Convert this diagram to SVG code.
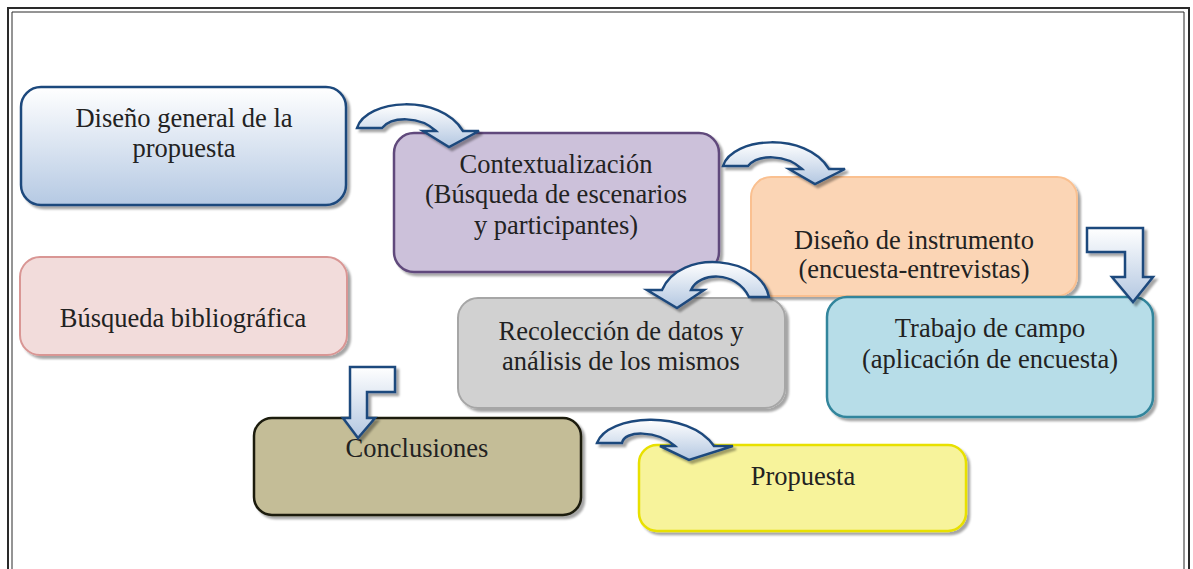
<svg xmlns="http://www.w3.org/2000/svg" width="1193" height="569" viewBox="0 0 1193 569">
<defs>
<linearGradient id="gBlue" x1="0" y1="0" x2="0" y2="1">
<stop offset="0" stop-color="#ffffff"/>
<stop offset="1" stop-color="#b5c9e3"/>
</linearGradient>
<linearGradient id="gArrow" x1="0" y1="0" x2="0" y2="1">
<stop offset="0" stop-color="#ffffff"/>
<stop offset="1" stop-color="#b3c7e1"/>
</linearGradient>
<filter id="sh" x="-10%" y="-10%" width="125%" height="130%">
<feDropShadow dx="3" dy="3" stdDeviation="1.2" flood-color="#000" flood-opacity="0.35"/>
</filter>
</defs>
<style>
.box{filter:url(#sh);}
.t{font-family:"Liberation Serif","Times New Roman",serif;font-size:26.5px;fill:#222;text-anchor:middle;}
.arr{fill:url(#gArrow);stroke:#1f497d;stroke-width:2.5;stroke-linejoin:miter;filter:url(#sh);}
.frame{fill:none;stroke:#2a2a2a;}
</style>
<rect width="1193" height="569" fill="#ffffff"/>
<g id="frame">
<path class="frame" d="M8,575 L8,8 L1189,8 L1189,575" stroke-width="2"/>
<path class="frame" d="M12,575 L12,12 L1184,12 L1184,575" stroke-width="1"/>
</g>
<g id="node-diseno-general">
<rect class="box" x="21" y="87" width="325" height="118" rx="20" fill="url(#gBlue)" stroke="#1f497d" stroke-width="2.5"/>
<text class="t" x="184" y="127">Diseño general de la</text>
<text class="t" x="184" y="157">propuesta</text>
</g>
<g id="node-contextualizacion">
<rect class="box" x="394" y="133" width="325" height="139" rx="20" fill="#ccc1da" stroke="#604a7b" stroke-width="2.5"/>
<text class="t" x="556" y="173">Contextualización</text>
<text class="t" x="556" y="203">(Búsqueda de escenarios</text>
<text class="t" x="556" y="234">y participantes)</text>
</g>
<g id="node-diseno-instrumento">
<rect class="box" x="751" y="177" width="326" height="119" rx="20" fill="#fbd5b5" stroke="#fac090" stroke-width="2"/>
<text class="t" x="914" y="249">Diseño de instrumento</text>
<text class="t" x="914" y="278">(encuesta-entrevistas)</text>
</g>
<g id="node-busqueda">
<rect class="box" x="20" y="257" width="327" height="98" rx="20" fill="#f2dcdb" stroke="#d99694" stroke-width="2"/>
<text class="t" x="183" y="327">Búsqueda bibliográfica</text>
</g>
<g id="node-recoleccion">
<rect class="box" x="458" y="298" width="327" height="110" rx="20" fill="#d1d1d1" stroke="#a6a6a6" stroke-width="2"/>
<text class="t" x="621" y="340">Recolección de datos y</text>
<text class="t" x="621" y="370">análisis de los mismos</text>
</g>
<g id="node-trabajo">
<rect class="box" x="827" y="297" width="326" height="120" rx="20" fill="#b7dde8" stroke="#31859c" stroke-width="2.5"/>
<text class="t" x="990" y="337">Trabajo de campo</text>
<text class="t" x="990" y="368">(aplicación de encuesta)</text>
</g>
<g id="node-conclusiones">
<rect class="box" x="254" y="418" width="327" height="97" rx="18" fill="#c4bd97" stroke="#1d1b10" stroke-width="2.5"/>
<text class="t" x="417" y="457">Conclusiones</text>
</g>
<g id="node-propuesta">
<rect class="box" x="639" y="445" width="327" height="86" rx="18" fill="#f7f39b" stroke="#e8e000" stroke-width="2.5"/>
<text class="t" x="803" y="485">Propuesta</text>
</g>
<g id="connectors">
<path class="arr" d="M357,128 C366,99 440,93 463,131 L479,131 L449,147 L423,131 L436,131 C420,116 392,116 382,128 Z"/>
<path class="arr" d="M723,166 C732,137 806,131 829,169 L845,169 L815,184 L789,169 L802,169 C786,154 758,154 748,166 Z"/>
<path class="arr" d="M769,297 C761,256 680,248 662,290 L647,290 L677,308 L704,290 L691,290 C699,272 736,270 749,297 Z"/>
<path class="arr" d="M1087,228 L1143,228 L1143,277 L1153,277 L1133,302 L1112,277 L1125,277 L1125,252 L1087,252 Z"/>
<path class="arr" d="M395,367 L350,367 L350,418 L343,418 L358,438 L375,418 L367,418 L367,392 L395,392 Z"/>
<path class="arr" d="M597,443 C607,414 689,409 714,446 L733,446 L689,460 L660,446 L675,446 C657,430 624,430 622,443 Z"/>
</g>
</svg>
